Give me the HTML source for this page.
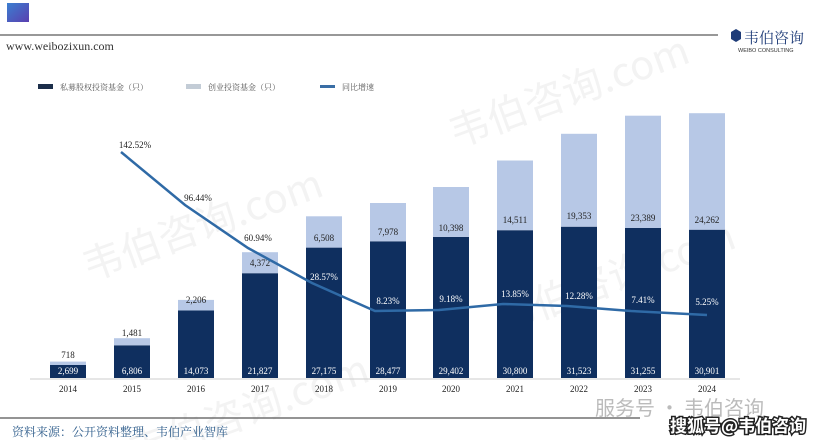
<!DOCTYPE html>
<html><head><meta charset="utf-8"><style>
html,body{margin:0;width:817px;height:440px;background:#fff;overflow:hidden;}
svg{display:block;}
</style></head><body>
<svg width="817" height="440" xmlns="http://www.w3.org/2000/svg" font-family="Liberation Serif, Noto Serif CJK SC, serif">
<defs><linearGradient id="g" x1="0" y1="0" x2="1" y2="1"><stop offset="0" stop-color="#3b7fd0"/><stop offset="1" stop-color="#5a3fb0"/></linearGradient></defs>
<rect x="7" y="3" width="22" height="19" fill="url(#g)"/>
<line x1="0" y1="35" x2="718" y2="35" stroke="#777" stroke-width="1.5"/>
<text x="6" y="50" font-size="12" fill="#333">www.weibozixun.com</text>
<path d="M731 32 l5 -3 5 3 v7 l-5 3 -5 -3z" fill="#1f3c78"/>
<text x="744" y="43" font-size="15" fill="#1f3c78" font-family="Noto Serif CJK SC, serif">韦伯咨询</text>
<text x="738" y="52" font-size="5.5" fill="#333" font-family="Liberation Sans, sans-serif">WEIBO CONSULTING</text>
<rect x="38" y="84" width="15" height="5" fill="#1c2e4a"/>
<text x="60" y="90" font-size="8" fill="#555" font-family="Noto Serif CJK SC, serif">私募股权投资基金（只）</text>
<rect x="186" y="84" width="15" height="5" fill="#c3ccd6"/>
<text x="208" y="90" font-size="8" fill="#555" font-family="Noto Serif CJK SC, serif">创业投资基金（只）</text>
<rect x="320" y="85" width="15" height="3" fill="#3a6ea5"/>
<text x="342" y="90" font-size="8" fill="#555" font-family="Noto Serif CJK SC, serif">同比增速</text>
<g font-size="40" fill="#f3f3f3" font-family="Noto Sans CJK SC, sans-serif" transform="rotate(-20 400 200)">
<text x="80" y="170">韦伯咨询.com</text><text x="470" y="170">韦伯咨询.com</text>
<text x="60" y="360">韦伯咨询.com</text><text x="450" y="360">韦伯咨询.com</text></g>
<line x1="30" y1="379" x2="740" y2="379" stroke="#ccc"/>
<g fill="#0f2f5f">
<rect x="50" y="365" width="36" height="13"/>
<rect x="114" y="345.3" width="36" height="32.7"/>
<rect x="178" y="310.5" width="36" height="67.5"/>
<rect x="242" y="273.2" width="36" height="104.8"/>
<rect x="306" y="247.6" width="36" height="130.4"/>
<rect x="370" y="241.3" width="36" height="136.7"/>
<rect x="433" y="236.9" width="36" height="141.1"/>
<rect x="497" y="230.2" width="36" height="147.8"/>
<rect x="561" y="226.7" width="36" height="151.3"/>
<rect x="625" y="228" width="36" height="150"/>
<rect x="689" y="229.7" width="36" height="148.3"/>
</g>
<g fill="#b7c8e6">
<rect x="50" y="361.6" width="36" height="3.4"/>
<rect x="114" y="338.2" width="36" height="7.1"/>
<rect x="178" y="299.9" width="36" height="10.6"/>
<rect x="242" y="252.2" width="36" height="21"/>
<rect x="306" y="216.3" width="36" height="31.3"/>
<rect x="370" y="203" width="36" height="38.3"/>
<rect x="433" y="187" width="36" height="49.9"/>
<rect x="497" y="160.5" width="36" height="69.7"/>
<rect x="561" y="133.8" width="36" height="92.9"/>
<rect x="625" y="115.7" width="36" height="112.3"/>
<rect x="689" y="113.2" width="36" height="116.5"/>
</g>
<g font-size="9" fill="#fff" text-anchor="middle">
<text x="68" y="374">2,699</text><text x="132" y="374">6,806</text><text x="196" y="374">14,073</text><text x="260" y="374">21,827</text><text x="324" y="374">27,175</text><text x="388" y="374">28,477</text><text x="451" y="374">29,402</text><text x="515" y="374">30,800</text><text x="579" y="374">31,523</text><text x="643" y="374">31,255</text><text x="707" y="374">30,901</text>
</g>
<g font-size="9" fill="#222" text-anchor="middle">
<text x="68" y="358">718</text><text x="132" y="336">1,481</text><text x="196" y="303">2,206</text><text x="260" y="266">4,372</text><text x="324" y="241">6,508</text><text x="388" y="235">7,978</text><text x="451" y="231">10,398</text><text x="515" y="223">14,511</text><text x="579" y="219">19,353</text><text x="643" y="221">23,389</text><text x="707" y="223">24,262</text>
</g>
<g font-size="9" fill="#222" text-anchor="middle">
<text x="392" y="392" fill="none"></text>
<text x="68" y="392">2014</text><text x="132" y="392">2015</text><text x="196" y="392">2016</text><text x="260" y="392">2017</text><text x="324" y="392">2018</text><text x="388" y="392">2019</text><text x="451" y="392">2020</text><text x="515" y="392">2021</text><text x="579" y="392">2022</text><text x="643" y="392">2023</text><text x="707" y="392">2024</text>
</g>
<polyline fill="none" stroke="#2f6aa6" stroke-width="2.5" points="121,152 185,205 248,248 312,283 375,311 439,310 503,304 567,306 631,311 707,315"/>
<g font-size="9" fill="#222" text-anchor="middle">
<text x="135" y="148">142.52%</text><text x="198" y="201">96.44%</text><text x="258" y="241">60.94%</text>
</g>
<g font-size="9" fill="#fff" text-anchor="middle">
<text x="324" y="280">28.57%</text><text x="388" y="304">8.23%</text><text x="451" y="302">9.18%</text>
<text x="515" y="297">13.85%</text><text x="579" y="299">12.28%</text><text x="643" y="303">7.41%</text><text x="707" y="305">5.25%</text>
</g>
<line x1="0" y1="418" x2="640" y2="418" stroke="#555" stroke-width="1.2"/>
<text x="12" y="436" font-size="12" fill="#2c5b8a" font-family="Noto Serif CJK SC, serif">资料来源：公开资料整理、韦伯产业智库</text>
<text x="595" y="415" font-size="20" fill="#bbb" font-family="Noto Sans CJK SC, sans-serif">服务号 · 韦伯咨询</text>
<text x="670" y="432" font-size="17" fill="#fff" stroke="#222" stroke-width="3" paint-order="stroke" font-family="Noto Sans CJK SC, sans-serif" font-weight="bold">搜狐号@韦伯咨询</text>
</svg>
</body></html>
